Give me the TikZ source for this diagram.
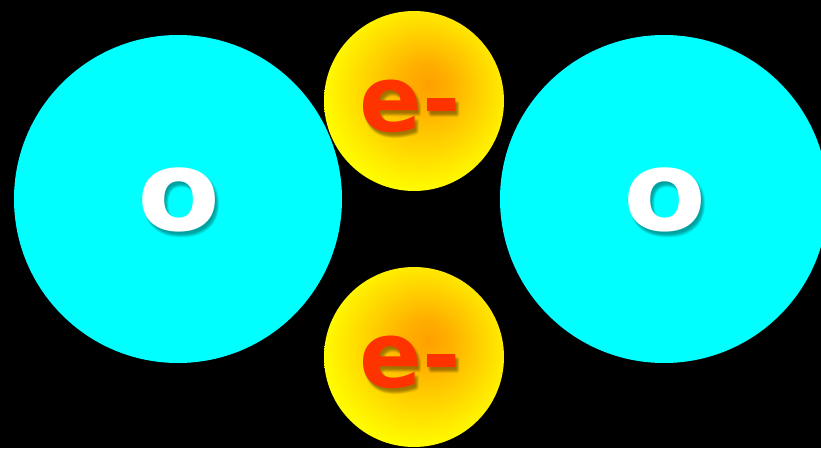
\documentclass[tikz,border=0pt]{standalone}
\usepackage{fontspec}
\newfontfamily\labelfont{DejaVu Sans}
\definecolor{atomcyan}{HTML}{00FFFF}
\definecolor{elecred}{HTML}{FF3300}
\definecolor{elecyellow}{HTML}{FFFF00}
\definecolor{elecorange}{HTML}{FFA000}
\definecolor{oshadow}{HTML}{006060}
\definecolor{eshadowc}{HTML}{604000}
\pgfdeclareradialshading{eshade}{\pgfpoint{4bp}{5bp}}{%
  color(0bp)=(elecorange);
  color(6bp)=(elecorange!85!elecyellow);
  color(28bp)=(elecyellow);
  color(50bp)=(elecyellow)}
\newcommand{\shcopy}[3]{\rlap{\kern#1pt\raisebox{#2pt}{#3}}}
\newcommand{\shadowedtext}[2]{%
  \pgfsetfillopacity{0.10}%
  {\color{#1}%
  \shcopy{1}{-2}{#2}\shcopy{2}{-3}{#2}\shcopy{3}{-4}{#2}\shcopy{2}{-5}{#2}%
  \shcopy{4}{-3}{#2}\shcopy{3}{-6}{#2}\shcopy{1}{-4}{#2}\shcopy{4}{-5}{#2}}%
  \pgfsetfillopacity{1}#2}
\tikzset{
  oatom/.style={circle, fill=atomcyan, minimum size=328pt, inner sep=0pt},
  elec/.style={circle, shading=eshade, minimum size=180pt, inner sep=0pt},
  olabel/.style={font=\labelfont\bfseries\fontsize{112}{112}\selectfont, text=white, inner sep=0pt, xscale=1.08},
  elabel/.style={font=\labelfont\bfseries\fontsize{92}{92}\selectfont, text=elecred, inner sep=0pt}
}
\begin{document}
\begin{tikzpicture}[x=1pt,y=1pt]
  \fill[black] (0,0) rectangle (821,448);
  \useasboundingbox (0,0) rectangle (821,448);
  % atoms
  \node[oatom] (oleft) at (178,249) {};
  \node[oatom] (oright) at (664,249) {};
  % electrons
  \node[elec] (etop) at (414,347) {};
  \node[elec] (ebot) at (414,91) {};
  % labels
  \node[olabel] (lo1) at ([shift={(1,-4)}]oleft.center) {\shadowedtext{oshadow}{o}};
  \node[olabel] (lo2) at ([shift={(1,-4)}]oright.center) {\shadowedtext{oshadow}{o}};
  \node[elabel] (le1) at ([shift={(-4,-8)}]etop.center) {\shadowedtext{eshadowc}{e-}};
  \node[elabel] (le2) at ([shift={(-4,-8)}]ebot.center) {\shadowedtext{eshadowc}{e-}};
\end{tikzpicture}
\end{document}
